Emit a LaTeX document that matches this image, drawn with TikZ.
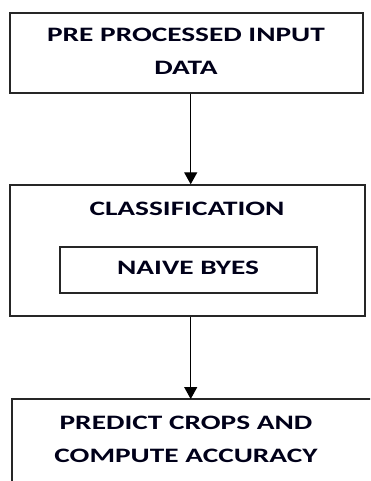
\documentclass[tikz,border=0pt]{standalone}
\usepackage{fontspec}
\setmainfont{Carlito}
\newfontfamily\widefont[FakeStretch=1.43]{Carlito}
\usetikzlibrary{arrows.meta}
\tikzset{
  lbl/.style={font={\widefont\bfseries\fontsize{20.5}{33}\selectfont}, text=black!90!blue, align=center, inner sep=0pt},
  boxline/.style={draw=black!85, line width=1.4pt},
  flow/.style={draw=black, line width=1.3pt, -{Triangle[length=12pt,width=13pt]}}
}
\begin{document}
\begin{tikzpicture}[x=1pt,y=-1pt]
\useasboundingbox (0,0) rectangle (370,481);
\clip (0,0) rectangle (370,481);
% box 1
\node[boxline, minimum width=353pt, minimum height=80pt, inner sep=0pt] (box1) at (186.5,53) {};
\node[lbl] (t1) at (186,51.5) {PRE PROCESSED INPUT\\DATA};
% box 2
\node[boxline, minimum width=355pt, minimum height=131pt, inner sep=0pt] (box2) at (187.5,250.5) {};
\node[lbl] (t2) at (187,209) {CLASSIFICATION};
\node[boxline, minimum width=257pt, minimum height=46pt, inner sep=0pt] (nb) at (188.5,270) {};
\node[lbl] (t3) at (188,268) {NAIVE BYES};
% box 3 (cut by the picture edge)
\coordinate (b3tl) at (12,399);
\coordinate (b3br) at (390,520);
\draw[boxline] (b3tl) rectangle (b3br);
\coordinate (box3n) at (190.7,399);
\node[lbl] (t4) at (186,439) {PREDICT CROPS AND\\COMPUTE ACCURACY};
% arrows
\coordinate (ax) at (190.7,0);
\draw[flow] (box1.south -| ax) -- (box2.north -| ax);
\draw[flow] (box2.south -| ax) -- (box3n);
\end{tikzpicture}
\end{document}
